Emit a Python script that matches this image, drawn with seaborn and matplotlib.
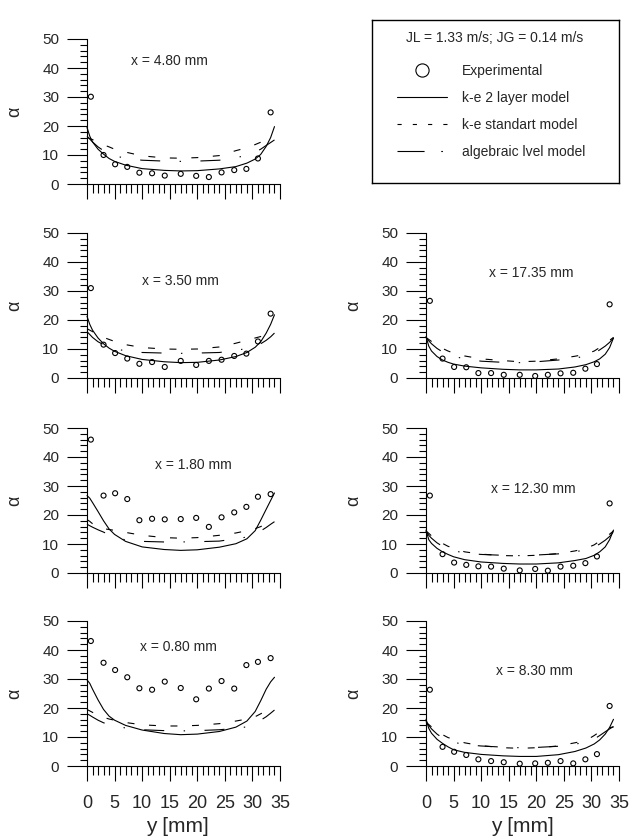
import matplotlib
matplotlib.use("Agg")
import matplotlib.pyplot as plt
from matplotlib.lines import Line2D
from matplotlib.ticker import MultipleLocator
import pandas as pd
import seaborn as sns

# ---------------- data ----------------
y_exp = [0.7, 3.0, 5.1, 7.3, 9.5, 11.8, 14.1, 17.0, 19.8, 22.1, 24.4, 26.7, 28.9, 31.0, 33.3]
y_model = [0, 0.5, 1, 2, 3, 4, 5, 7, 10, 14, 17, 20, 24, 27, 29, 30.5, 31.5, 32.5, 33.3, 34]

panel_titles = ["x = 4.80 mm", "x = 3.50 mm", "x = 1.80 mm", "x = 0.80 mm",
                "x = 17.35 mm", "x = 12.30 mm", "x = 8.30 mm"]

exp_480 = [30.1, 10.0, 6.8, 5.9, 3.9, 3.7, 2.9, 3.5, 2.8, 2.4, 4.0, 4.8, 5.2, 8.8, 24.7]
exp_350 = [31.0, 11.5, 8.6, 6.7, 4.9, 5.5, 3.8, 5.9, 4.5, 5.9, 6.3, 7.6, 8.4, 12.6, 22.2]
exp_180 = [46.0, 26.7, 27.5, 25.5, 18.2, 18.7, 18.5, 18.6, 19.0, 15.9, 19.2, 20.9, 22.8, 26.3, 27.2]
exp_080 = [43.1, 35.6, 33.1, 30.6, 26.8, 26.3, 29.1, 26.9, 23.0, 26.7, 29.3, 26.7, 34.8, 35.9, 37.2]
exp_1735 = [26.6, 6.7, 3.8, 3.7, 1.7, 1.7, 1.1, 1.1, 0.7, 1.1, 1.6, 1.8, 3.2, 4.8, 25.4]
exp_1230 = [26.7, 6.5, 3.6, 2.8, 2.3, 2.2, 1.5, 0.9, 1.4, 0.8, 2.2, 2.5, 3.4, 5.7, 24.0]
exp_830 = [26.3, 6.6, 4.9, 3.8, 2.3, 1.7, 1.3, 0.8, 0.9, 1.1, 1.7, 0.9, 2.3, 4.1, 20.7]

two_480 = [19.5, 16.5, 14.5, 12.0, 10.3, 8.8, 7.8, 6.5, 5.3, 4.7, 4.5, 4.6, 5.2, 6.0, 7.2, 8.6, 10.2, 13.0, 16.0, 19.8]
std_480 = [16.0, 15.7, 15.3, 14.5, 13.5, 12.8, 12.0, 11.0, 9.7, 9.0, 8.9, 9.1, 9.8, 11.5, 12.5, 13.6, 14.4, 15.0, 15.3, 15.5]
alg_480 = [16.5, 15.5, 14.5, 12.8, 11.5, 10.5, 9.8, 8.8, 8.2, 7.9, 7.8, 7.9, 8.2, 9.0, 10.0, 11.0, 12.0, 13.3, 14.3, 15.2]

two_350 = [21.3, 18.5, 16.5, 13.8, 11.8, 10.3, 9.2, 7.7, 6.4, 5.6, 5.3, 5.4, 6.2, 7.4, 8.8, 10.6, 12.5, 15.5, 18.5, 21.8]
std_350 = [17.0, 16.5, 16.0, 15.0, 14.0, 13.3, 12.6, 11.5, 10.5, 10.0, 9.9, 10.0, 10.7, 12.0, 13.0, 13.8, 14.3, 14.8, 15.2, 15.5]
alg_350 = [16.0, 15.0, 14.0, 12.5, 11.5, 10.7, 10.2, 9.3, 8.8, 8.6, 8.5, 8.6, 8.8, 9.5, 10.2, 11.0, 11.8, 13.0, 14.2, 15.5]

two_180 = [26.7, 25.8, 24.3, 21.2, 18.0, 15.2, 13.3, 10.9, 9.0, 8.1, 7.8, 8.0, 8.9, 10.1, 11.8, 14.6, 18.2, 22.0, 25.0, 27.6]
std_180 = [18.4, 17.8, 17.0, 16.0, 15.3, 15.0, 14.7, 14.0, 13.0, 12.2, 12.0, 12.2, 13.0, 13.8, 14.6, 15.3, 16.0, 17.0, 17.8, 18.5]
alg_180 = [16.8, 16.3, 15.8, 14.9, 14.1, 13.2, 12.5, 11.4, 10.9, 10.7, 10.7, 10.8, 11.0, 11.8, 12.4, 13.5, 14.5, 15.7, 16.8, 17.7]

two_080 = [29.7, 28.5, 26.5, 22.8, 19.5, 17.2, 15.8, 14.0, 12.4, 11.2, 10.8, 11.0, 11.9, 13.4, 15.5, 18.8, 22.5, 26.5, 29.0, 30.6]
std_080 = [19.5, 19.0, 18.5, 17.5, 16.8, 16.2, 15.8, 15.0, 14.2, 13.8, 13.8, 14.0, 14.6, 15.5, 16.2, 17.0, 18.0, 19.0, 19.5, 19.8]
alg_080 = [18.0, 17.5, 16.9, 15.8, 14.9, 14.3, 13.9, 13.1, 12.5, 12.2, 12.1, 12.2, 12.5, 13.0, 13.5, 14.5, 15.8, 17.0, 18.2, 19.3]

two_1735 = [14.3, 11.0, 9.3, 7.4, 6.2, 5.4, 4.8, 4.1, 3.5, 3.0, 2.8, 2.8, 3.1, 3.8, 4.6, 5.6, 6.6, 8.2, 10.5, 13.8]
std_1735 = [14.0, 13.3, 12.6, 11.3, 10.2, 9.3, 8.6, 7.6, 6.6, 6.0, 5.6, 5.8, 6.6, 7.5, 8.2, 9.3, 10.5, 11.8, 13.0, 14.0]
alg_1735 = [14.0, 12.8, 11.8, 10.2, 9.0, 8.1, 7.5, 6.6, 5.8, 5.4, 5.3, 5.6, 6.2, 6.9, 7.5, 8.5, 9.7, 11.0, 12.3, 13.8]

two_1230 = [14.8, 11.5, 10.2, 8.5, 7.3, 6.4, 5.6, 4.6, 3.8, 3.3, 3.1, 3.1, 3.5, 4.3, 5.0, 6.1, 7.3, 9.0, 11.5, 14.8]
std_1230 = [14.5, 13.7, 12.8, 11.3, 10.2, 9.2, 8.6, 7.3, 6.5, 6.0, 5.9, 6.1, 6.7, 7.6, 8.5, 9.7, 11.0, 12.3, 13.4, 14.5]
alg_1230 = [14.5, 13.0, 12.0, 10.4, 9.2, 8.3, 7.7, 6.9, 6.4, 6.1, 6.0, 6.2, 6.6, 7.3, 8.0, 8.9, 10.0, 11.3, 12.6, 14.2]

two_830 = [16.1, 13.0, 11.3, 9.2, 7.8, 6.6, 5.6, 4.7, 4.0, 3.5, 3.3, 3.3, 3.9, 5.0, 6.2, 7.6, 9.0, 11.0, 13.3, 16.1]
std_830 = [15.0, 14.3, 13.5, 12.3, 10.8, 9.8, 9.2, 8.0, 7.0, 6.3, 6.1, 6.3, 6.9, 8.0, 8.8, 10.5, 11.8, 12.7, 13.2, 13.5]
alg_830 = [15.5, 14.0, 12.8, 11.0, 9.7, 8.8, 8.2, 7.4, 6.9, 6.5, 6.3, 6.4, 6.8, 7.5, 8.3, 9.3, 10.5, 11.8, 12.8, 13.6]

legend_title = "JL = 1.33 m/s; JG = 0.14 m/s"
legend_labels = ["Experimental", "k-e 2 layer model", "k-e standart model", "algebraic lvel model"]

# ---------------- layout / style ----------------
sns.set_style("ticks")
plt.rcParams['font.family'] = ['Liberation Sans', 'DejaVu Sans']
plt.rcParams['lines.scale_dashes'] = False

W, H = 630, 840
fig = plt.figure(figsize=(W / 100, H / 100), dpi=100)

col_left = [87, 426]
row_bottom = [184, 378, 573, 766]
AXW, AXH = 193, 145

std_ls = (0, (5, 10.5))
alg_ls = (0, (14.4, 14, 1, 14))

panels = [
    # (row, col, title, exp, two, std, alg, title_pos)
    (0, 0, panel_titles[0], exp_480, two_480, std_480, alg_480, (15.0, 42.4)),
    (1, 0, panel_titles[1], exp_350, two_350, std_350, alg_350, (16.9, 33.3)),
    (2, 0, panel_titles[2], exp_180, two_180, std_180, alg_180, (19.3, 37.1)),
    (3, 0, panel_titles[3], exp_080, two_080, std_080, alg_080, (16.6, 41.2)),
    (1, 1, panel_titles[4], exp_1735, two_1735, std_1735, alg_1735, (19.0, 36.2)),
    (2, 1, panel_titles[5], exp_1230, two_1230, std_1230, alg_1230, (19.5, 29.1)),
    (3, 1, panel_titles[6], exp_830, two_830, std_830, alg_830, (19.7, 32.7)),
]

for row, col, title, exp, two, std, alg, tpos in panels:
    ax = fig.add_axes([col_left[col] / W, 1 - row_bottom[row] / H, AXW / W, AXH / H])
    df_e = pd.DataFrame({"y": y_exp, "alpha": exp})
    df_m = pd.DataFrame({"y": y_model, "two": two, "std": std, "alg": alg})

    sns.lineplot(data=df_m, x="y", y="two", ax=ax, color="black", lw=0.8,
                 estimator=None, sort=False, clip_on=False)
    sns.lineplot(data=df_m, x="y", y="std", ax=ax, color="black", lw=0.8,
                 linestyle=std_ls, estimator=None, sort=False, clip_on=False)
    sns.lineplot(data=df_m, x="y", y="alg", ax=ax, color="black", lw=0.8,
                 linestyle=alg_ls, estimator=None, sort=False, clip_on=False)
    sns.scatterplot(data=df_e, x="y", y="alpha", ax=ax, marker="o", s=13,
                    facecolors="none", edgecolor="black", linewidth=0.8,
                    clip_on=False, zorder=3)

    ax.set_xlim(0, 35)
    ax.set_ylim(0, 50)
    ax.xaxis.set_major_locator(MultipleLocator(5))
    ax.xaxis.set_minor_locator(MultipleLocator(1))
    ax.yaxis.set_major_locator(MultipleLocator(10))
    ax.yaxis.set_minor_locator(MultipleLocator(2))
    sns.despine(ax=ax)
    for sp in ("left", "bottom"):
        ax.spines[sp].set_linewidth(0.8)
        ax.spines[sp].set_color("black")
    ax.tick_params(axis="y", which="major", length=14.4, width=0.8, direction="out",
                   labelsize=11, pad=5.5, color="black")
    ax.tick_params(axis="y", which="minor", length=5, width=0.8, direction="out", color="black")
    ax.tick_params(axis="x", which="major", length=11, width=0.8, direction="out",
                   labelsize=13, pad=10, color="black")
    ax.tick_params(axis="x", which="minor", length=6.5, width=0.8, direction="out", color="black")

    ax.set_ylabel("α", fontsize=13)
    ax.yaxis.label.set_va("center")
    ax.yaxis.set_label_coords(-72 / AXW, 0.5)
    if row == 3:
        ax.set_xlabel("y [mm]", fontsize=15)
        ax.xaxis.label.set_va("center")
        ax.xaxis.set_label_coords(0.47 if col == 0 else 0.5, -0.419)
    else:
        ax.set_xlabel("")
        ax.tick_params(axis="x", labelbottom=False)

    ax.text(tpos[0], tpos[1], title, fontsize=10, ha="center", va="center")
    ax.set_facecolor("none")

# ---------------- legend box ----------------
lax = fig.add_axes([372 / W, 1 - 183 / H, 247 / W, 163 / H])
lax.set_xticks([])
lax.set_yticks([])
for sp in lax.spines.values():
    sp.set_visible(True)
    sp.set_color("black")
    sp.set_linewidth(1.0)
lax.text(0.498, 0.89, legend_title, fontsize=10, ha="center", va="center",
         transform=lax.transAxes)
handles = [
    Line2D([], [], ls="none", marker="o", ms=9.5, mfc="none", mec="black", mew=0.8),
    Line2D([], [], color="black", lw=0.8),
    Line2D([], [], color="black", lw=0.8, ls=(0, (3, 8))),
    Line2D([], [], color="black", lw=0.8, ls=(0, (19.5, 12, 1.2, 20))),
]
fs_px = 10 * 100 / 72
lax.legend(handles, legend_labels, loc="upper left",
           bbox_to_anchor=(25 / 247, (183 - 64) / 163), frameon=False,
           borderpad=0, borderaxespad=0, handlelength=50 / fs_px,
           handletextpad=15 / fs_px, labelspacing=0.94, fontsize=10)

fig.savefig("out.png", dpi=100)
